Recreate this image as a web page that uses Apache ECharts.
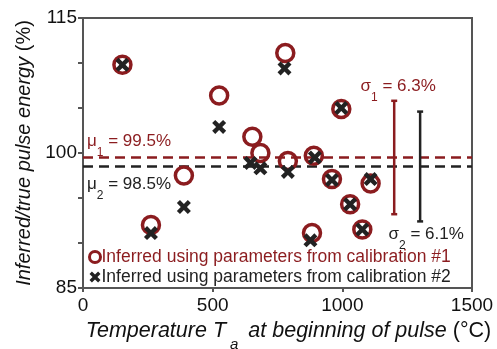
<!DOCTYPE html>
<html>
<head>
<meta charset="utf-8">
<script src="https://cdn.jsdelivr.net/npm/echarts@6/dist/echarts.min.js"></script>
<style>
  html, body { margin: 0; padding: 0; background: #fff; }
  #chart { width: 497px; height: 349px; }
</style>
</head>
<body>
<div id="chart"></div>
<script>
const RED = '#8b1c1f'
const BLACK = '#222222'
const FONT = '"Liberation Sans", Arial, sans-serif'

// temperature at beginning of pulse (°C)
const tempCal1 = [152, 262, 389, 525, 653, 684, 780, 790, 890, 883, 960, 996, 1030, 1077, 1109]
const energyCal1 = [109.8, 92.0, 97.5, 106.4, 101.8, 100.0, 111.1, 99.1, 99.7, 91.1, 97.1, 104.9, 94.3, 91.5, 96.6]
const tempCal2 = [152, 262, 389, 525, 646, 684, 777, 790, 894, 877, 960, 996, 1030, 1077, 1109]
const energyCal2 = [109.8, 91.1, 94.0, 102.9, 98.9, 98.3, 109.4, 97.9, 99.5, 90.3, 97.0, 105.0, 94.3, 91.5, 97.1]

const means = [99.5, 98.5]
const sigmas = [6.3, 6.1]
const sigmaBarX = [1200, 1300]
const xTicks = [0, 500, 1000, 1500]
const yTickLabels = [85, 100, 115]

const legendNames = [
  'Inferred using parameters from calibration #1',
  'Inferred using parameters from calibration #2'
]

const crossPath = 'path://M0,2.2 L2.2,0 L5,2.8 L7.8,0 L10,2.2 L7.2,5 L10,7.8 L7.8,10 L5,7.2 L2.2,10 L0,7.8 L2.8,5 Z'

const zip = (a, b) => a.map((v, i) => [v, b[i]])

const chart = echarts.init(document.getElementById('chart'))

const errorBar = (color) => function (params, api) {
  const top = api.coord([api.value(0), api.value(1) + api.value(2)])
  const bot = api.coord([api.value(0), api.value(1) - api.value(2)])
  const s = { stroke: color, lineWidth: 2.5 }
  return {
    type: 'group',
    children: [
      { type: 'line', shape: { x1: top[0], y1: top[1], x2: bot[0], y2: bot[1] }, style: s },
      { type: 'line', shape: { x1: top[0] - 3, y1: top[1], x2: top[0] + 3, y2: top[1] }, style: s },
      { type: 'line', shape: { x1: bot[0] - 3, y1: bot[1], x2: bot[0] + 3, y2: bot[1] }, style: s }
    ]
  }
}

chart.setOption({
  animation: false,
  textStyle: { fontFamily: FONT },
  grid: {
    left: 83, right: 25, top: 18, bottom: 61,
    outerBoundsMode: 'none', containLabel: false,
    show: true, borderColor: '#555', borderWidth: 2
  },
  legend: {
    orient: 'vertical',
    left: 88, top: 248,
    itemWidth: 11, itemHeight: 11, itemGap: 2,
    padding: 0,
    textStyle: { fontSize: 17.5, padding: [0, 0, 0, -4] },
    data: [
      { name: legendNames[0], icon: 'circle',
        itemStyle: { color: '#fff', borderColor: RED, borderWidth: 3 },
        textStyle: { color: RED } },
      { name: legendNames[1], icon: crossPath,
        itemStyle: { color: BLACK, borderWidth: 0 },
        textStyle: { color: BLACK } }
    ]
  },
  xAxis: {
    type: 'value', min: 0, max: 1500, interval: 500,
    axisLine: { show: true, lineStyle: { color: '#555', width: 2 } },
    axisTick: { show: true, length: 4, lineStyle: { color: '#555', width: 2 } },
    axisLabel: { fontSize: 19, color: '#111', margin: 8,
      formatter: v => xTicks.includes(v) ? String(v) : '' },
    splitLine: { show: false },
    name: '{i|Temperature T}{sub|a}{i| at beginning of pulse }{n|(°C)}',
    nameLocation: 'middle', nameGap: 29,
    nameTextStyle: {
      padding: [0, 0, 0, 22],
      rich: {
        i: { fontSize: 21.5, fontStyle: 'italic', color: '#111', fontFamily: FONT, lineHeight: 24, verticalAlign: 'top' },
        n: { fontSize: 21.5, color: '#111', fontFamily: FONT, lineHeight: 24, verticalAlign: 'top' },
        sub: { fontSize: 15, fontStyle: 'italic', color: '#111', fontFamily: FONT, lineHeight: 32, verticalAlign: 'bottom', padding: [0, 4, 0, 4] }
      }
    }
  },
  yAxis: {
    type: 'value', min: 85, max: 115, interval: 5,
    axisLine: { show: true, lineStyle: { color: '#555', width: 2 } },
    axisTick: { show: true, length: 5, lineStyle: { color: '#555', width: 2 } },
    axisLabel: { fontSize: 19, color: '#111', margin: 6,
      formatter: v => yTickLabels.includes(v) ? String(v) : '' },
    splitLine: { show: false },
    name: '{i|Inferred/true pulse energy }{n|(%)}',
    nameLocation: 'middle', nameGap: 48,
    nameTextStyle: {
      rich: {
        i: { fontSize: 20, fontStyle: 'italic', color: '#111', fontFamily: FONT },
        n: { fontSize: 20, color: '#111', fontFamily: FONT }
      }
    }
  },
  series: [
    {
      name: 'mean1', type: 'line', data: [[0, means[0]], [1500, means[0]]],
      symbol: 'none', silent: true, z: 1,
      lineStyle: { color: RED, width: 2.5, type: [10, 6] }
    },
    {
      name: 'mean2', type: 'line', data: [[0, means[1]], [1500, means[1]]],
      symbol: 'none', silent: true, z: 1,
      lineStyle: { color: BLACK, width: 2.5, type: [10, 6] }
    },
    {
      name: 'sigma1', type: 'custom', z: 2,
      data: [[sigmaBarX[0], means[0], sigmas[0]]],
      renderItem: errorBar(RED)
    },
    {
      name: 'sigma2', type: 'custom', z: 2,
      data: [[sigmaBarX[1], means[1], sigmas[1]]],
      renderItem: errorBar(BLACK)
    },
    {
      name: legendNames[0], type: 'scatter', z: 3,
      data: zip(tempCal1, energyCal1),
      symbol: 'circle', symbolSize: 17,
      itemStyle: { color: 'rgba(255,255,255,0)', borderColor: RED, borderWidth: 3.5, opacity: 1 }
    },
    {
      name: legendNames[1], type: 'scatter', z: 4,
      data: zip(tempCal2, energyCal2),
      symbol: crossPath, symbolSize: 14,
      itemStyle: { color: BLACK, opacity: 1 }
    }
  ]
})

// annotations placed from data coordinates
const px = (x, y) => chart.convertToPixel({ gridIndex: 0 }, [x, y])
const richSub = (color) => ({
  t: { fontSize: 17, fill: color, fontFamily: FONT, lineHeight: 20, verticalAlign: 'top' },
  s: { fontSize: 12, fill: color, fontFamily: FONT, lineHeight: 26, verticalAlign: 'bottom' }
})
const p1 = px(0, means[0])
const p2 = px(0, means[1])
const s1 = px(sigmaBarX[0], means[0] + sigmas[0])
const s2 = px(sigmaBarX[1], means[1] - sigmas[1])
const label = (x, y, text, color, align) => ({
  type: 'text', x: x, y: y,
  style: { text: text, rich: richSub(color), fill: color, align: align || 'left', verticalAlign: 'middle' }
})
chart.setOption({
  graphic: [
    label(p1[0] + 4, p1[1] - 12, '{t|μ}{s|1}{t| = 99.5%}', RED),
    label(p2[0] + 4, p2[1] + 22, '{t|μ}{s|2}{t| = 98.5%}', BLACK),
    label(s1[0] + 4, s1[1] - 10, '{t|σ}{s|1}{t| = 6.3%}', RED, 'center'),
    label(s2[0] + 6, s2[1] + 17, '{t|σ}{s|2}{t| = 6.1%}', BLACK, 'center')
  ]
})
</script>
</body>
</html>
